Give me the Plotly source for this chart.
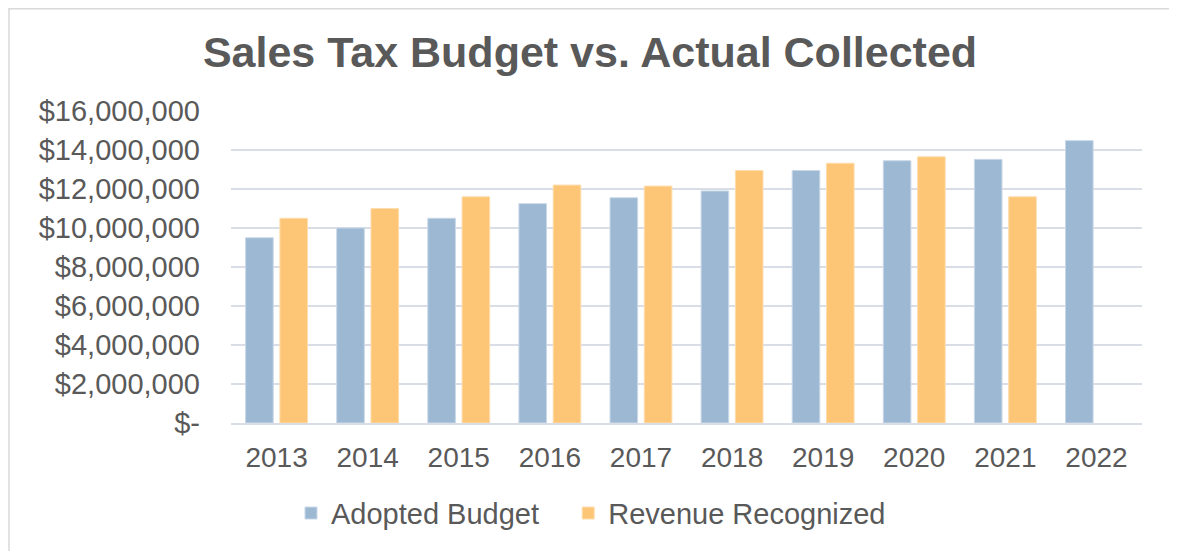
"""
Sales tax budget vs. actual collected, grouped bars.
"""
import plotly.graph_objects as go

years = ["2013", "2014", "2015", "2016", "2017", "2018", "2019", "2020", "2021", "2022"]
adopted_budget = [9500000, 10000000, 10500000, 11250000, 11550000, 11900000,
                  12950000, 13450000, 13520000, 14480000]
revenue_recognized = [10500000, 11000000, 11600000, 12200000, 12150000, 12950000,
                      13320000, 13650000, 11600000, None]

y_tick_vals = [0, 2000000, 4000000, 6000000, 8000000, 10000000, 12000000, 14000000, 16000000]
y_tick_text = ["$-", "$2,000,000", "$4,000,000", "$6,000,000", "$8,000,000",
               "$10,000,000", "$12,000,000", "$14,000,000", "$16,000,000"]

text_color = "#595959"
grid_color = "#D9DEE6"
font_family = "Liberation Sans, Arial, sans-serif"

# the page body has an 8px margin, so the figure is 8px smaller than the window
W, H = 1169, 543
L, T, R, B = 223, 103, 35, 128
plot_w = W - L - R
plot_h = H - T - B

fig = go.Figure()

fig.add_trace(go.Bar(
    x=years,
    y=adopted_budget,
    # trailing nbsp's widen the gap to the next legend entry
    name="Adopted Budget\u00a0\u00a0\u00a0",
    marker=dict(color="#9CB8D3", line=dict(color="#C9D8E7", width=1)),
))
fig.add_trace(go.Bar(
    x=years,
    y=revenue_recognized,
    name="Revenue Recognized",
    marker=dict(color="#FDC576", line=dict(color="#FEDDAE", width=1)),
))

fig.update_layout(
    width=W,
    height=H,
    margin=dict(l=L, r=R, t=T, b=B),
    paper_bgcolor="white",
    plot_bgcolor="white",
    font=dict(family=font_family, color=text_color, size=28),
    title=dict(
        text="<b>Sales Tax Budget vs. Actual Collected</b>",
        font=dict(size=43, color=text_color),
        x=582 / W,
        xref="container",
        xanchor="center",
        y=1 - 44 / H,
        yref="container",
        yanchor="middle",
    ),
    barmode="group",
    bargap=0.247,
    bargroupgap=0.195,
    showlegend=True,
    legend=dict(
        orientation="h",
        x=(283 - L) / plot_w,
        xanchor="left",
        y=-0.289,
        yanchor="middle",
        font=dict(size=29, color=text_color),
        itemwidth=30,
        traceorder="normal",
    ),
    # light frame round the whole chart
    shapes=[dict(
        type="rect",
        xref="paper", yref="paper",
        x0=(1 - L) / plot_w, x1=(1162 - L) / plot_w,
        y0=(T + plot_h - 600) / plot_h, y1=(T + plot_h - 0.75) / plot_h,
        line=dict(color="#D9D9D9", width=1.5),
        layer="below",
    )],
)

fig.update_xaxes(
    showgrid=False,
    showline=True,
    linecolor=grid_color,
    linewidth=2,
    ticks="",
    ticklabelstandoff=8,
    tickfont=dict(size=28, color=text_color),
)
fig.update_yaxes(
    range=[0, 16000000],
    tickvals=y_tick_vals,
    ticktext=y_tick_text,
    showgrid=True,
    gridcolor=grid_color,
    gridwidth=1.5,
    zeroline=False,
    showline=False,
    ticks="",
    ticklabelstandoff=30,
    tickfont=dict(size=29, color=text_color),
)

fig.write_html("out.html")
